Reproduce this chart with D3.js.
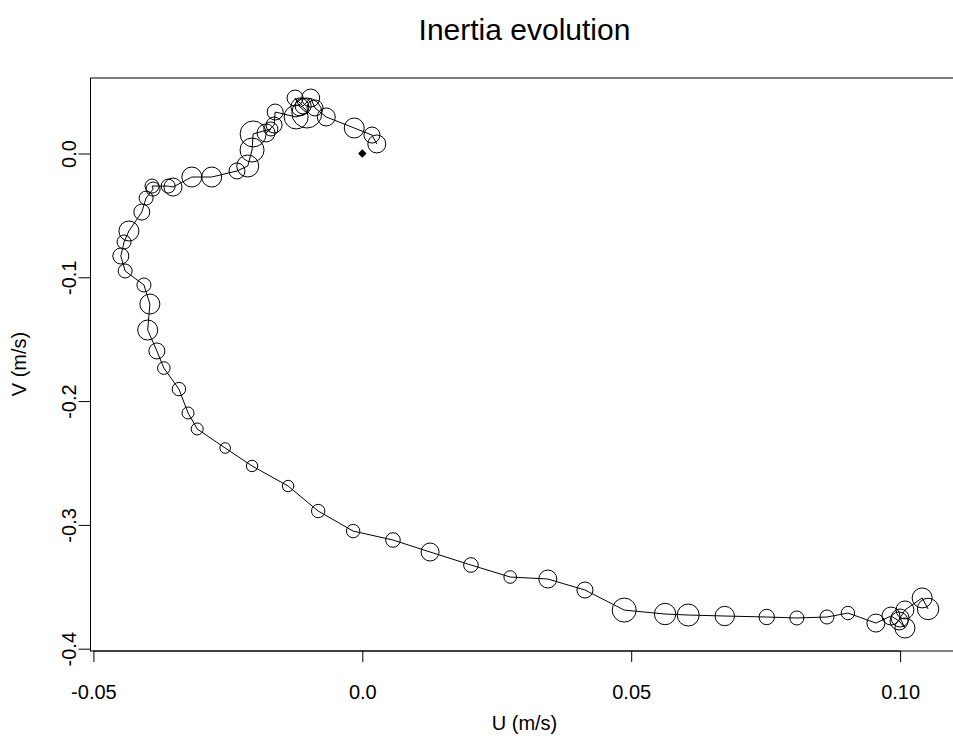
<!DOCTYPE html>
<html>
<head>
<meta charset="utf-8">
<script src="https://cdn.jsdelivr.net/npm/d3@7"></script>
<style>
  html, body { margin: 0; padding: 0; background: #fff; }
  svg { display: block; }
  text { font-family: "Liberation Sans", Arial, sans-serif; fill: #000; }
</style>
</head>
<body>
<svg id="chart" width="953" height="744"></svg>
<script>
// ---- data ----
const uValues = [0.0027, 0.0018, -0.0015, -0.0067, -0.0088, -0.0096, -0.0110, -0.0125, -0.0116, -0.0103,
  -0.0123, -0.0162, -0.0164, -0.0179, -0.0170, -0.0203, -0.0205, -0.0213, -0.0233, -0.0280,
  -0.0317, -0.0352, -0.0361, -0.0391, -0.0389, -0.0402, -0.0410, -0.0434, -0.0443, -0.0449,
  -0.0441, -0.0406, -0.0395, -0.0399, -0.0382, -0.0369, -0.0341, -0.0324, -0.0307, -0.0255,
  -0.0205, -0.0138, -0.0082, -0.0017, 0.0057, 0.0126, 0.0202, 0.0275, 0.0345, 0.0414,
  0.0487, 0.0563, 0.0606, 0.0674, 0.0752, 0.0808, 0.0864, 0.0903, 0.0955, 0.0983,
  0.0998, 0.1009, 0.1000, 0.1009, 0.1041, 0.1052];
const vValues = [0.0077, 0.0149, 0.0206, 0.0295, 0.0368, 0.0448, 0.0384, 0.0448, 0.0376, 0.0327,
  0.0295, 0.0335, 0.0230, 0.0166, 0.0198, 0.0158, 0.0028, -0.0101, -0.0141, -0.0190,
  -0.0190, -0.0271, -0.0263, -0.0263, -0.0287, -0.0360, -0.0473, -0.0626, -0.0715, -0.0828,
  -0.0949, -0.1062, -0.1216, -0.1426, -0.1595, -0.1733, -0.1903, -0.2096, -0.2225, -0.2379,
  -0.2524, -0.2686, -0.2888, -0.3050, -0.3122, -0.3219, -0.3324, -0.3421, -0.3437, -0.3526,
  -0.3688, -0.3720, -0.3728, -0.3736, -0.3744, -0.3752, -0.3744, -0.3712, -0.3793, -0.3736,
  -0.3776, -0.3833, -0.3752, -0.3687, -0.3590, -0.3679];
const inertiaValues = [0.90, 0.80, 1.00, 0.90, 0.80, 0.90, 0.80, 0.80, 0.90, 1.50,
  1.20, 0.80, 0.80, 0.90, 0.70, 1.30, 1.20, 1.10, 0.80, 1.00,
  1.00, 0.90, 0.70, 0.70, 0.70, 0.70, 0.80, 1.00, 0.70, 0.80,
  0.70, 0.70, 1.00, 1.00, 0.80, 0.63, 0.67, 0.60, 0.60, 0.53,
  0.57, 0.57, 0.67, 0.67, 0.73, 0.90, 0.73, 0.63, 0.90, 0.80,
  1.20, 1.07, 1.10, 0.97, 0.77, 0.70, 0.70, 0.67, 0.90, 0.90,
  0.90, 1.00, 0.90, 0.90, 1.00, 1.07];
const originPoint = [0, 0];
const xTicks = [-0.05, 0.0, 0.05, 0.10];
const xTickLabels = ["-0.05", "0.0", "0.05", "0.10"];
const yTicks = [0.0, -0.1, -0.2, -0.3, -0.4];
const yTickLabels = ["0.0", "-0.1", "-0.2", "-0.3", "-0.4"];
const titleText = "Inertia evolution";
const xLabel = "U (m/s)";
const yLabel = "V (m/s)";

// ---- layout ----
const plotLeft = 90, plotRight = 959, plotTop = 77.5, plotBottom = 650.5;
const svg = d3.select("#chart");

const x = d3.scaleLinear().domain([-0.05, 0.10]).range([93.4, 900.1]);
const y = d3.scaleLinear().domain([0, -0.4]).range([153.5, 648.7]);
const r = d3.scaleLinear().domain([0, 1]).range([0, 10]);

const data = uValues.map((u, i) => ({u, v: vValues[i], s: inertiaValues[i]}));

// box
svg.append("rect")
  .attr("x", plotLeft + 0.5).attr("y", plotTop + 0.5)
  .attr("width", plotRight - plotLeft).attr("height", plotBottom - plotTop)
  .attr("fill", "none").attr("stroke", "#000").attr("stroke-width", 1);

// x axis
const xAxis = d3.axisBottom(x).tickValues(xTicks)
  .tickFormat((d, i) => xTickLabels[i]).tickSize(11).tickPadding(37);
const gx = svg.append("g").attr("transform", `translate(0,${plotBottom + 0.5})`).call(xAxis);
gx.select(".domain").attr("d", `M${x(xTicks[0])},0H${x(xTicks[xTicks.length - 1])}`);
gx.selectAll("text").attr("font-size", 20).attr("font-family", "Liberation Sans, Arial, sans-serif");
gx.selectAll(".tick text").attr("dy", "0");

// y axis
const yAxis = d3.axisLeft(y).tickValues(yTicks)
  .tickFormat((d, i) => yTickLabels[i]).tickSize(12).tickPadding(14);
const gy = svg.append("g").attr("transform", `translate(${plotLeft + 0.5},0)`).call(yAxis);
gy.select(".domain").attr("d", `M0,${y(yTicks[0])}V${y(yTicks[yTicks.length - 1])}`);
gy.selectAll(".tick text")
  .attr("font-size", 20).attr("font-family", "Liberation Sans, Arial, sans-serif")
  .attr("x", null).attr("dy", null)
  .attr("text-anchor", "middle")
  .attr("transform", "translate(-15,0) rotate(-90)");

// titles
svg.append("text").attr("x", (plotLeft + plotRight) / 2).attr("y", 40)
  .attr("text-anchor", "middle").attr("font-size", 30).text(titleText);
svg.append("text").attr("x", (plotLeft + plotRight) / 2).attr("y", 730)
  .attr("text-anchor", "middle").attr("font-size", 20).text(xLabel);
svg.append("text")
  .attr("transform", `translate(26,${(plotTop + plotBottom) / 2}) rotate(-90)`)
  .attr("text-anchor", "middle").attr("font-size", 20).text(yLabel);

// trajectory line
const line = d3.line().x(d => x(d.u)).y(d => y(d.v));
svg.append("path").datum(data).attr("d", line)
  .attr("fill", "none").attr("stroke", "#000").attr("stroke-width", 1);

// circles
svg.append("g").selectAll("circle").data(data).join("circle")
  .attr("cx", d => x(d.u)).attr("cy", d => y(d.v)).attr("r", d => r(d.s))
  .attr("fill", "none").attr("stroke", "#000").attr("stroke-width", 1);

// origin marker (filled diamond)
svg.append("path")
  .attr("d", d3.symbol().type(d3.symbolSquare).size(36)())
  .attr("transform", `translate(${x(originPoint[0])},${y(originPoint[1])}) rotate(45)`)
  .attr("fill", "#000");
</script>
</body>
</html>
